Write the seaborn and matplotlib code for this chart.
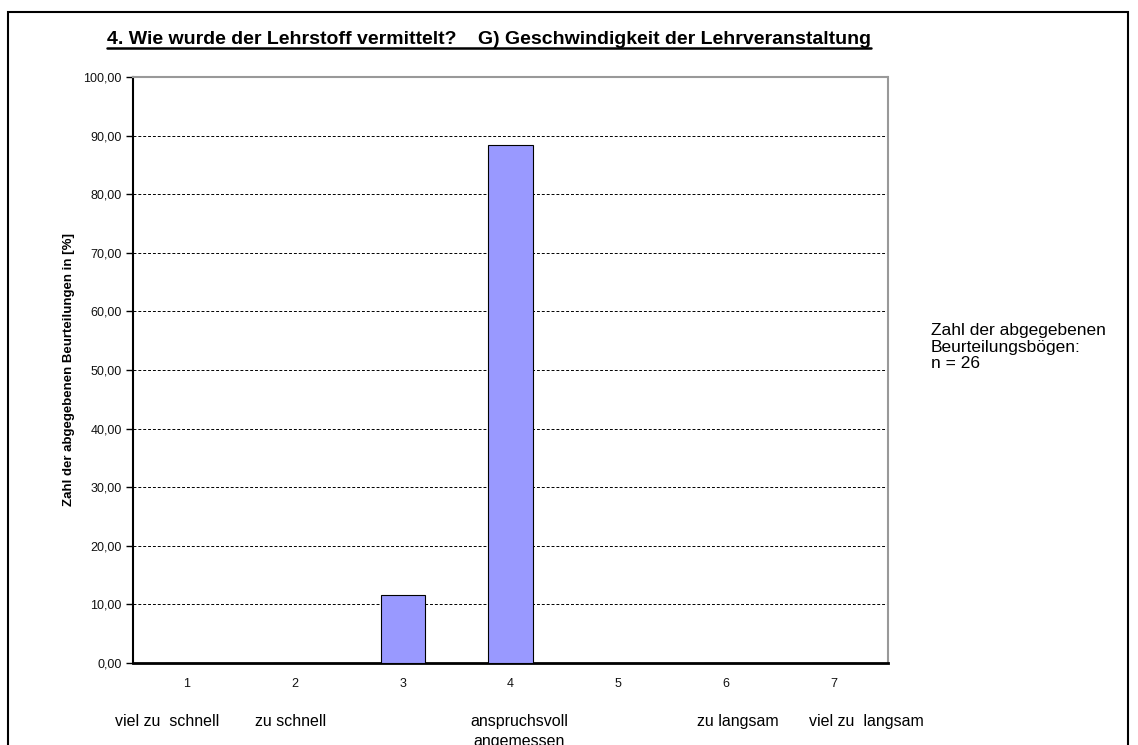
import numpy as np
import matplotlib
matplotlib.use("Agg")
import matplotlib.pyplot as plt
import matplotlib.transforms as mtransforms
from matplotlib.patches import Rectangle
from matplotlib.lines import Line2D
import seaborn as sns

# Data
categories = ['1', '2', '3', '4', '5', '6', '7']
percent = [0.0, 0.0, 11.54, 88.46, 0.0, 0.0, 0.0]
scale_labels = ['viel zu  schnell', 'zu schnell', '', 'anspruchsvoll\nangemessen', '', 'zu langsam', 'viel zu  langsam']
label_shift = [-0.18, -0.04, 0.0, 0.08, 0.0, 0.11, 0.30]
yticks = np.arange(0, 101, 10)
n_total = 26

sns.set_style("white")
plt.rcParams['font.family'] = ['Liberation Sans', 'DejaVu Sans']
plt.rcParams['text.color'] = 'black'
plt.rcParams['axes.labelcolor'] = 'black'

fig = plt.figure(figsize=(11.38, 7.45), dpi=100)
ax = fig.add_axes([133 / 1138, 82 / 745, 755 / 1138, 586 / 745])

sns.barplot(x=categories, y=percent, color='#9999FF', saturation=1,
            edgecolor='black', linewidth=0.8, width=0.41, ax=ax, zorder=3)

ax.set_xlim(-0.5, 6.5)
ax.set_ylim(0, 100)
ax.set_yticks(yticks)
ax.set_yticklabels([f"{v:.2f}".replace('.', ',') for v in yticks], fontsize=9, color='#111111')
ax.yaxis.grid(True, color='black', linestyle=(0, (3, 2)), linewidth=0.7)
ax.set_axisbelow(True)

# ticks at category boundaries, labels at centres
ax.set_xticks(range(len(categories)))
ax.set_xticklabels(categories, fontsize=9, color='#111111')
ax.set_xticks(np.arange(-0.5, 7, 1), minor=True)
ax.tick_params(axis='x', which='major', length=0, pad=11)
ax.tick_params(axis='x', which='minor', length=5, width=1, direction='out', color='black')
ax.tick_params(axis='y', length=5, width=1, direction='out', color='black', left=True, pad=3)
ax.set_xlabel('')

for side in ['left', 'bottom']:
    ax.spines[side].set_color('black')
ax.spines['left'].set_linewidth(1.5)
ax.spines['bottom'].set_linewidth(2)
for side in ['top', 'right']:
    ax.spines[side].set_color('#999999')
    ax.spines[side].set_linewidth(1.5)
ax.spines['top'].set_linestyle((0, (2, 1)))

ax.set_ylabel('Zahl der abgegebenen Beurteilungen in [%]', fontsize=9.5,
              fontweight='bold', labelpad=6)

# scale descriptions under the axis
trans = mtransforms.blended_transform_factory(ax.transData, fig.transFigure)
for i, lab in enumerate(scale_labels):
    if lab:
        ax.text(i + label_shift[i], 1 - 714 / 745, lab, transform=trans, ha='center',
                va='top', fontsize=11.5, linespacing=1.4, clip_on=False)

fig.text(931 / 1138, 1 - 347 / 745,
         f'Zahl der abgegebenen\nBeurteilungsbögen:\nn = {n_total}',
         ha='left', va='center', fontsize=12.5, linespacing=1.1)

title = fig.text(489 / 1138, 1 - 39 / 745,
                 '4. Wie wurde der Lehrstoff vermittelt?    G) Geschwindigkeit der Lehrveranstaltung',
                 ha='center', va='center', fontsize=14, fontweight='bold')

# underline title
fig.canvas.draw()
bb = title.get_window_extent(renderer=fig.canvas.get_renderer()).transformed(fig.transFigure.inverted())
fig.add_artist(Line2D([bb.x0, bb.x1], [1 - 47.5 / 745] * 2, transform=fig.transFigure,
                      color='black', linewidth=1.8))

# outer frame (open at the bottom)
fig.add_artist(Rectangle((8 / 1138, -0.05), 1120 / 1138, 1.05 - 12 / 745,
                         transform=fig.transFigure, fill=False, edgecolor='black',
                         linewidth=1.5))

fig.savefig('out.png', dpi=100)
